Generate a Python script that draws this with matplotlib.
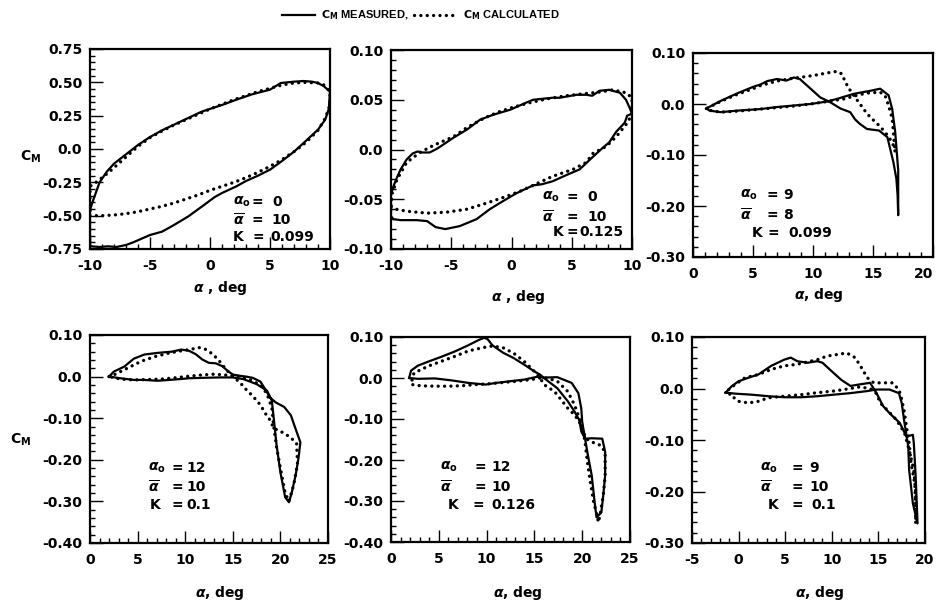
import matplotlib
matplotlib.use("Agg")
import matplotlib.pyplot as plt
from matplotlib.lines import Line2D
from matplotlib.ticker import MultipleLocator

# ---- data read off the six pitching-moment loops ----
# panel 1: alpha_o = 0, abar = 10, K = 0.099
p1_meas_a = [-10.0, -9.8, -9.6, -9.2, -8.6, -8.0, -7.0, -6.0, -5.0, -4.0, -2.7, -0.7, 1.0, 2.2, 3.5,
             5.0, 5.9, 7.0, 7.8, 8.5, 9.0, 9.5, 10.0, 9.9, 9.6, 9.0, 7.8, 7.0, 6.0, 5.0, 4.0, 3.0,
             2.2, 1.0, 0.4, -0.5, -1.8, -3.0, -4.0, -5.0, -6.4, -7.0, -7.8, -8.5, -9.2, -9.9, -10.0,
             -10.0]
p1_meas_cm = [-0.46, -0.40, -0.35, -0.25, -0.17, -0.11, -0.04, 0.03, 0.09, 0.14, 0.195, 0.28, 0.33,
              0.37, 0.41, 0.445, 0.495, 0.505, 0.51, 0.505, 0.495, 0.47, 0.43, 0.30, 0.22, 0.145,
              0.045, -0.02, -0.09, -0.155, -0.20, -0.24, -0.28, -0.33, -0.36, -0.42, -0.505, -0.57,
              -0.62, -0.645, -0.70, -0.72, -0.735, -0.73, -0.735, -0.73, -0.72, -0.46]
p1_calc_a = [-10, -9, -8, -7, -6, -5, -4, -3, -2, -1, 0, 1, 2, 3, 4, 5, 6, 7, 8, 9, 9.6, 10, 10,
             9.5, 9, 8, 7, 6, 5, 4, 3, 2, 1, 0, -1, -2, -3, -4, -5, -6, -7, -7.5, -8, -8.5, -9,
             -9.5, -10, -10]
p1_calc_cm = [-0.50, -0.50, -0.495, -0.485, -0.47, -0.45, -0.43, -0.405, -0.375, -0.345, -0.31,
              -0.28, -0.25, -0.215, -0.175, -0.13, -0.08, -0.02, 0.05, 0.14, 0.23, 0.33, 0.43,
              0.48, 0.495, 0.50, 0.495, 0.48, 0.455, 0.43, 0.40, 0.37, 0.335, 0.30, 0.26, 0.22,
              0.18, 0.135, 0.085, 0.02, -0.06, -0.10, -0.14, -0.18, -0.215, -0.25, -0.28, -0.50]

# panel 2: alpha_o = 0, abar = 10, K = 0.125
p2_meas_a = [-10.0, -9.8, -9.5, -9.2, -8.7, -8.2, -7.8, -7.4, -6.8, -6.3, -5.9, -4.8, -3.7, -2.6,
             -1.5, -0.1, 1.2, 1.8, 3.4, 4.0, 5.4, 6.2, 6.7, 7.3, 8.1, 9.0, 9.5, 9.8, 10.0, 9.6,
             9.4, 8.7, 8.1, 7.6, 6.7, 5.65, 4.5, 3.4, 2.5, 1.8, 0.4, -1.0, -1.8, -2.9, -4.3, -5.5,
             -6.3, -7.0, -7.85, -9.2, -9.8, -10.0, -10.0]
p2_meas_cm = [-0.045, -0.037, -0.028, -0.020, -0.010, -0.004, -0.002, -0.003, -0.003, 0.000, 0.003,
              0.012, 0.020, 0.030, 0.035, 0.040, 0.047, 0.050, 0.052, 0.052, 0.055, 0.055, 0.054,
              0.059, 0.060, 0.057, 0.050, 0.042, 0.036, 0.034, 0.027, 0.018, 0.007, 0.002, -0.008,
              -0.020, -0.026, -0.032, -0.035, -0.036, -0.044, -0.054, -0.060, -0.070, -0.077,
              -0.080, -0.078, -0.072, -0.071, -0.071, -0.070, -0.067, -0.045]
p2_calc_a = [-10.0, -9.6, -8.7, -7.0, -5.4, -3.7, -2.1, -0.4, 0.7, 1.8, 3.4, 5.1, 6.2, 6.75, 7.85,
             8.7, 9.5, 10.0, 10.0, 9.5, 8.4, 7.5, 6.0, 4.5, 3.0, 1.5, 0.0, -1.0, -2.2, -3.7, -4.8,
             -6.5, -7.6, -8.7, -9.5, -9.9, -10.0]
p2_calc_cm = [-0.058, -0.060, -0.062, -0.064, -0.063, -0.060, -0.054, -0.047, -0.042, -0.036,
              -0.027, -0.020, -0.013, -0.004, 0.003, 0.013, 0.025, 0.035, 0.052, 0.057, 0.060,
              0.058, 0.056, 0.054, 0.051, 0.047, 0.042, 0.038, 0.032, 0.022, 0.013, 0.004,
              -0.003, -0.013, -0.030, -0.044, -0.058]

# panel 3: alpha_o = 9, abar = 8, K = 0.099
p3_meas_a = [1.1, 1.5, 2.3, 3.7, 5.05, 5.6, 6.2, 7.0, 7.8, 8.4, 8.9, 9.8, 10.6, 11.4, 12.3, 13.1,
             13.5, 13.9, 14.5, 15.5, 16.2, 16.4, 16.7, 16.95, 17.05, 17.1, 17.1, 16.85, 16.6, 16.3,
             15.6, 14.8, 13.4, 12.0, 11.2, 9.8, 8.4, 7.0, 5.6, 3.7, 2.3, 1.4, 1.1]
p3_meas_cm = [-0.009, -0.004, 0.006, 0.021, 0.034, 0.038, 0.045, 0.049, 0.046, 0.052, 0.049,
              0.030, 0.013, 0.004, -0.009, -0.016, -0.030, -0.039, -0.049, -0.052, -0.065,
              -0.085, -0.114, -0.147, -0.179, -0.218, -0.130, -0.055, -0.010, 0.017, 0.030,
              0.026, 0.020, 0.010, 0.005, 0.000, -0.003, -0.006, -0.010, -0.013, -0.016, -0.013,
              -0.009]
p3_calc_a = [1.2, 2.3, 3.7, 5.0, 5.6, 7.0, 8.2, 9.5, 10.3, 11.2, 12.0, 12.4, 12.7, 13.0, 13.7,
             14.1, 14.5, 15.05, 15.5, 16.0, 16.4, 16.7, 16.85, 16.75, 16.7, 16.6, 16.3, 16.0,
             15.6, 14.7, 13.8, 12.6, 11.2, 9.8, 8.4, 7.0, 5.6, 3.7, 2.3, 1.5, 1.2]
p3_calc_cm = [-0.008, 0.005, 0.019, 0.030, 0.036, 0.045, 0.050, 0.054, 0.057, 0.061, 0.064, 0.059,
              0.043, 0.030, 0.007, -0.006, -0.019, -0.032, -0.042, -0.055, -0.068, -0.081,
              -0.094, -0.070, -0.055, -0.029, -0.003, 0.017, 0.023, 0.022, 0.018, 0.010, 0.005,
              0.000, -0.004, -0.007, -0.010, -0.014, -0.016, -0.013, -0.010]

# panel 4: alpha_o = 12, abar = 10, K = 0.1
p4_meas_a = [2.0, 2.5, 3.6, 4.6, 5.7, 7.1, 8.6, 9.6, 10.4, 11.1, 11.8, 12.5, 13.2, 13.9, 14.5,
             15.0, 15.7, 16.4, 17.1, 17.9, 18.4, 18.9, 19.5, 20.4, 21.1, 21.6, 22.1, 21.9, 21.6,
             21.2, 20.9, 20.5, 20.0, 19.6, 19.3, 19.1, 18.6, 17.5, 16.1, 15.0, 13.6, 11.8, 10.4,
             8.9, 7.1, 5.7, 4.6, 3.2, 2.0]
p4_meas_cm = [0.000, 0.012, 0.024, 0.043, 0.053, 0.057, 0.060, 0.065, 0.062, 0.054, 0.041, 0.033,
              0.032, 0.025, 0.013, 0.005, 0.002, 0.000, -0.003, -0.012, -0.030, -0.050, -0.062,
              -0.073, -0.093, -0.126, -0.158, -0.196, -0.237, -0.278, -0.302, -0.290, -0.230,
              -0.165, -0.100, -0.058, -0.034, -0.018, -0.006, -0.002, -0.002, -0.003, -0.004,
              -0.007, -0.010, -0.008, -0.008, -0.004, 0.000]
p4_calc_a = [2.0, 2.5, 3.9, 5.4, 6.8, 8.2, 9.6, 10.7, 11.4, 12.1, 12.9, 13.6, 14.3, 15.0, 15.7,
             16.4, 17.1, 17.9, 18.4, 18.9, 19.3, 20.2, 21.0, 21.7, 21.8, 21.4, 20.9, 20.5, 20.0,
             19.6, 19.3, 19.1, 18.6, 18.0, 17.0, 16.0, 15.0, 13.9, 13.2, 11.8, 10.4, 8.9, 7.5,
             6.1, 4.6, 3.2, 2.0]
p4_calc_cm = [0.000, 0.004, 0.020, 0.037, 0.048, 0.056, 0.062, 0.066, 0.070, 0.066, 0.054, 0.037,
              0.017, 0.000, -0.013, -0.031, -0.047, -0.068, -0.088, -0.104, -0.124, -0.134,
              -0.145, -0.160, -0.210, -0.260, -0.300, -0.280, -0.220, -0.170, -0.120, -0.075,
              -0.042, -0.022, -0.009, -0.001, 0.003, 0.004, 0.006, 0.004, 0.001, -0.003, -0.006,
              -0.007, -0.008, -0.006, 0.000]

# panel 5: alpha_o = 12, abar = 10, K = 0.126
p5_meas_a = [1.9, 2.1, 2.8, 3.9, 5.3, 6.7, 8.1, 9.2, 9.75, 10.1, 10.6, 11.7, 12.8, 13.9, 15.0,
             15.6, 16.0, 17.4, 18.5, 19.2, 19.7, 19.9, 20.3, 21.0, 22.1, 22.4, 22.4, 22.2, 22.0,
             21.5, 21.3, 21.0, 20.6, 20.3, 20.0, 19.9, 19.6, 18.9, 17.4, 16.0, 15.3, 13.9, 12.4,
             11.0, 9.9, 8.1, 6.4, 4.6, 2.8, 1.9]
p5_meas_cm = [0.000, 0.018, 0.030, 0.040, 0.052, 0.065, 0.080, 0.093, 0.098, 0.095, 0.080, 0.062,
              0.049, 0.033, 0.016, 0.008, 0.000, -0.025, -0.057, -0.082, -0.103, -0.130,
              -0.148, -0.147, -0.148, -0.180, -0.238, -0.287, -0.328, -0.340, -0.303, -0.238,
              -0.189, -0.148, -0.107, -0.074, -0.037, -0.012, 0.002, 0.001, 0.003, -0.004,
              -0.008, -0.012, -0.016, -0.012, -0.006, -0.001, -0.002, 0.000]
p5_calc_a = [2.2, 2.4, 3.9, 5.3, 6.7, 8.1, 9.6, 10.6, 11.7, 12.8, 13.9, 15.0, 15.6, 16.0, 17.1,
             17.8, 18.5, 19.2, 19.7, 20.1, 20.4, 21.0, 21.9, 22.4, 22.4, 22.2, 21.9, 21.7, 21.5,
             21.2, 20.8, 20.5, 20.3, 20.0, 19.7, 19.2, 18.5, 17.4, 16.3, 15.6, 14.6, 13.1, 11.7,
             10.3, 8.9, 7.4, 6.0, 4.6, 3.1, 2.2, 2.2]
p5_calc_cm = [-0.005, 0.012, 0.029, 0.041, 0.053, 0.066, 0.074, 0.078, 0.074, 0.061, 0.041, 0.016,
              0.000, -0.016, -0.033, -0.053, -0.074, -0.090, -0.107, -0.131, -0.148, -0.156,
              -0.164, -0.180, -0.238, -0.287, -0.330, -0.352, -0.330, -0.303, -0.246, -0.197,
              -0.156, -0.120, -0.098, -0.066, -0.033, -0.008, 0.000, 0.000, -0.004, -0.008,
              -0.011, -0.014, -0.016, -0.019, -0.020, -0.020, -0.019, -0.016, -0.005]

# panel 6: alpha_o = 9, abar = 10, K = 0.1
p6_meas_a = [-1.4, -0.7, 0.0, 1.06, 2.1, 3.5, 4.9, 5.6, 6.3, 7.4, 8.45, 9.0, 10.2, 11.0, 12.0,
             13.0, 14.1, 14.8, 15.5, 16.2, 17.3, 18.0, 18.7, 18.8, 19.0, 19.2, 18.7, 18.3, 18.2,
             17.8, 17.5, 17.2, 16.2, 14.8, 13.8, 12.0, 10.2, 8.45, 6.7, 4.9, 3.2, 1.4, -0.35, -1.4]
p6_meas_cm = [-0.008, 0.005, 0.014, 0.021, 0.027, 0.044, 0.056, 0.060, 0.053, 0.050, 0.053, 0.050,
              0.030, 0.017, 0.005, 0.008, 0.011, -0.009, -0.034, -0.048, -0.067, -0.093, -0.090,
              -0.106, -0.171, -0.262, -0.223, -0.158, -0.112, -0.067, -0.028, -0.009, -0.002,
              -0.002, -0.005, -0.009, -0.012, -0.015, -0.017, -0.017, -0.015, -0.012, -0.010,
              -0.008]
p6_calc_a = [-1.06, -0.35, 0.7, 2.1, 3.5, 4.9, 6.3, 7.7, 8.45, 9.5, 10.6, 11.6, 12.5, 13.2, 13.8,
             14.5, 15.5, 16.5, 17.2, 17.5, 17.8, 18.0, 18.3, 18.5, 18.9, 19.0, 19.0, 19.0, 18.8,
             18.3, 17.8, 16.9, 15.9, 15.2, 14.8, 14.1, 13.0, 12.0, 11.3, 10.2, 8.5, 6.7, 4.9,
             3.2, 2.1, 1.06, 0.0, -0.35, -0.9, -1.06]
p6_calc_cm = [-0.002, 0.008, 0.021, 0.027, 0.037, 0.044, 0.047, 0.053, 0.056, 0.063, 0.066, 0.069,
              0.060, 0.040, 0.021, 0.011, 0.011, 0.011, -0.002, -0.021, -0.047, -0.073, -0.106,
              -0.145, -0.184, -0.223, -0.262, -0.200, -0.158, -0.120, -0.086, -0.060, -0.041,
              -0.028, -0.010, 0.000, 0.003, 0.000, -0.002, -0.005, -0.008, -0.012, -0.015,
              -0.018, -0.025, -0.028, -0.025, -0.019, -0.015, -0.002]

# ---- axis ticks and labels ----
x_ticks_sym = [-10, -5, 0, 5, 10]
x_labels_sym = ["-10", "-5", "0", "5", "10"]
x_ticks_p3 = [0, 5, 10, 15, 20]
x_labels_p3 = ["0", "5", "10", "15", "20"]
x_ticks_p45 = [0, 5, 10, 15, 20, 25]
x_labels_p45 = ["0", "5", "10", "15", "20", "25"]
x_ticks_p6 = [-5, 0, 5, 10, 15, 20]
x_labels_p6 = ["-5", "0", "5", "10", "15", "20"]

y_ticks_p1 = [0.75, 0.5, 0.25, 0.0, -0.25, -0.5, -0.75]
y_labels_p1 = ["0.75", "0.50", "0.25", "0.0", "-0.25", "-0.50", "-0.75"]
y_ticks_p2 = [0.10, 0.05, 0.0, -0.05, -0.10]
y_labels_p2 = ["0.10", "0.05", "0.0", "-0.05", "-0.10"]
y_ticks_p36 = [0.10, 0.0, -0.10, -0.20, -0.30]
y_labels_p36 = ["0.10", "0.0", "-0.10", "-0.20", "-0.30"]
y_ticks_p45 = [0.10, 0.0, -0.10, -0.20, -0.30, -0.40]
y_labels_p45 = ["0.10", "0.0", "-0.10", "-0.20", "-0.30", "-0.40"]

param_values = [("0", "10", "0.099"), ("0", "10", "0.125"), ("9", "8", "0.099"),
                ("12", "10", "0.1"), ("12", "10", "0.126"), ("9", "10", "0.1")]

W, H = 938, 605
plt.rcParams["font.family"] = "DejaVu Sans"
plt.rcParams["font.weight"] = "bold"
plt.rcParams["mathtext.fontset"] = "dejavusans"

fig = plt.figure(figsize=(W / 100, H / 100), dpi=100)


def fx(px):
    return px / W


def fy(py):
    return 1 - py / H


# panel boxes in pixels: left, top, right, bottom
panels = [
    dict(box=(90, 49, 330, 249), xlim=(-10, 10), ylim=(-0.75, 0.75), yminor=0.05,
         meas=(p1_meas_a, p1_meas_cm), calc=(p1_calc_a, p1_calc_cm),
         xt=(x_ticks_sym, x_labels_sym), yt=(y_ticks_p1, y_labels_p1),
         xlab=(220, 288, r"$\alpha$ , deg"),
         ann=dict(y=(202, 220, 237), sym=(233, 233, 233), eq=(257, 257, 258), val=(272, 271, 270))),
    dict(box=(391, 50, 632, 249), xlim=(-10, 10), ylim=(-0.10, 0.10), yminor=0.01,
         meas=(p2_meas_a, p2_meas_cm), calc=(p2_calc_a, p2_calc_cm),
         xt=(x_ticks_sym, x_labels_sym), yt=(y_ticks_p2, y_labels_p2),
         xlab=(518, 297, r"$\alpha$ , deg"),
         ann=dict(y=(197, 217, 232), sym=(542, 542, 553), eq=(572, 572, 572), val=(587, 587, 579))),
    dict(box=(693, 53, 933, 257), xlim=(0, 20), ylim=(-0.30, 0.10), yminor=0.02,
         meas=(p3_meas_a, p3_meas_cm), calc=(p3_calc_a, p3_calc_cm),
         xt=(x_ticks_p3, x_labels_p3), yt=(y_ticks_p36, y_labels_p36),
         xlab=(819, 295, r"$\alpha$, deg"),
         ann=dict(y=(195, 215, 233), sym=(740, 740, 752), eq=(772, 772, 773), val=(783, 783, 788))),
    dict(box=(90, 335, 328, 543), xlim=(0, 25), ylim=(-0.40, 0.10), yminor=0.02,
         meas=(p4_meas_a, p4_meas_cm), calc=(p4_calc_a, p4_calc_cm),
         xt=(x_ticks_p45, x_labels_p45), yt=(y_ticks_p45, y_labels_p45),
         xlab=(220, 593, r"$\alpha$, deg"),
         ann=dict(y=(468, 487, 505), sym=(148, 148, 150), eq=(177, 177, 177), val=(186, 186, 186))),
    dict(box=(391, 337, 630, 542), xlim=(0, 25), ylim=(-0.40, 0.10), yminor=0.02,
         meas=(p5_meas_a, p5_meas_cm), calc=(p5_calc_a, p5_calc_cm),
         xt=(x_ticks_p45, x_labels_p45), yt=(y_ticks_p45, y_labels_p45),
         xlab=(518, 593, r"$\alpha$, deg"),
         ann=dict(y=(467, 487, 505), sym=(440, 440, 448), eq=(480, 480, 478), val=(491, 491, 491))),
    dict(box=(692, 337, 925, 543), xlim=(-5, 20), ylim=(-0.30, 0.10), yminor=0.02,
         meas=(p6_meas_a, p6_meas_cm), calc=(p6_calc_a, p6_calc_cm),
         xt=(x_ticks_p6, x_labels_p6), yt=(y_ticks_p36, y_labels_p36),
         xlab=(820, 593, r"$\alpha$, deg"),
         ann=dict(y=(468, 487, 505), sym=(760, 760, 768), eq=(797, 797, 797), val=(809, 809, 811))),
]

meas_style = dict(color="black", lw=1.6, solid_joinstyle="round")
calc_style = dict(color="black", lw=2.4, linestyle=(0, (0.01, 1.9)), dash_capstyle="round")
symbols = [r"$\alpha_\mathbf{o}$", r"$\overline{\alpha}$", "K"]

for i, p in enumerate(panels):
    l, t, r, b = p["box"]
    ax = fig.add_axes([fx(l), fy(b), fx(r - l), (b - t) / H])
    ax.plot(*p["meas"], **meas_style)
    ax.plot(*p["calc"], **calc_style)
    ax.set_xlim(*p["xlim"])
    ax.set_ylim(*p["ylim"])
    ax.set_xticks(p["xt"][0])
    ax.set_xticklabels(p["xt"][1])
    ax.set_yticks(p["yt"][0])
    ax.set_yticklabels(p["yt"][1])
    ax.xaxis.set_minor_locator(MultipleLocator(1))
    ax.yaxis.set_minor_locator(MultipleLocator(p["yminor"]))
    ax.tick_params(which="both", direction="in", top=False, right=False, labelsize=10)
    ax.tick_params(which="major", length=9, width=1.0)
    ax.tick_params(which="minor", length=3.5, width=1.0)
    ax.tick_params(axis="y", pad=5.5)
    ax.tick_params(axis="x", pad=7)
    for s in ax.spines.values():
        s.set_linewidth(1.6)
    if r > 930:
        # last label sits against the figure edge
        ax.get_xticklabels()[-1].set_horizontalalignment("right")

    cx, cy, txt = p["xlab"]
    fig.text(fx(cx), fy(cy), txt, ha="center", va="center", fontsize=10)

    a = p["ann"]
    for row in range(3):
        yy = fy(a["y"][row])
        fig.text(fx(a["sym"][row]), yy, symbols[row], ha="left", va="center", fontsize=10)
        fig.text(fx(a["eq"][row]), yy, "=", ha="center", va="center", fontsize=10)
        fig.text(fx(a["val"][row]), yy, param_values[i][row], ha="left", va="center", fontsize=10)

# C_M axis titles
fig.text(fx(20), fy(157), r"$\mathbf{C_M}$", ha="left", va="center", fontsize=10)
fig.text(fx(10), fy(440), r"$\mathbf{C_M}$", ha="left", va="center", fontsize=10)

# legend row at top
ly = fy(15)
fig.add_artist(Line2D([fx(282), fx(315)], [ly, ly], transform=fig.transFigure, **meas_style))
fig.text(fx(321), ly, r"$\mathbf{C_M}$ MEASURED,", ha="left", va="center", fontsize=8,
         family="Liberation Sans")
fig.add_artist(Line2D([fx(414), fx(456)], [ly, ly], transform=fig.transFigure, **calc_style))
fig.text(fx(463), ly, r"$\mathbf{C_M}$ CALCULATED", ha="left", va="center", fontsize=8,
         family="Liberation Sans")

fig.savefig("out.png", dpi=100)
